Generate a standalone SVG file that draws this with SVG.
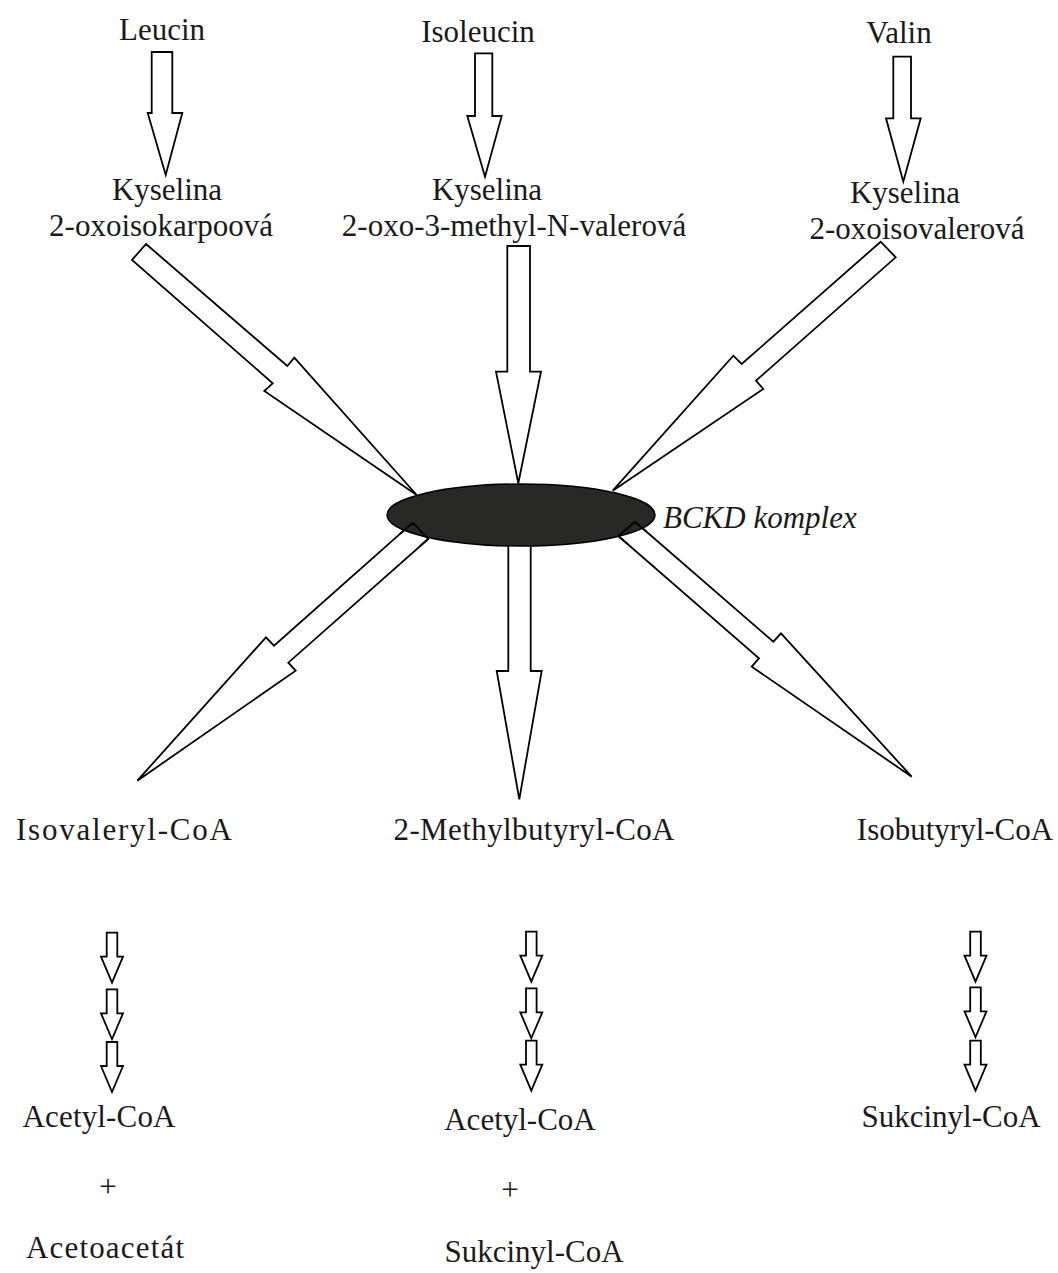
<svg xmlns="http://www.w3.org/2000/svg" width="1058" height="1273" viewBox="0 0 1058 1273">
<style>
text{font-family:"Liberation Serif","Times New Roman",serif;font-size:31px;fill:#1a1a1a;text-anchor:middle}
.it{font-style:italic;text-anchor:start}
.arr{fill:#fff;stroke:#000;stroke-width:1.8;stroke-linejoin:miter}
.arrn{fill:none;stroke:#000;stroke-width:1.8}
</style>
<defs>
<polygon id="sa" points="-5.3,0 5.3,0 5.3,24 11,24 0,50 -11,24 -5.3,24" class="arr"/>
</defs>
<rect width="1058" height="1273" fill="#fff"/>
<g id="connectors">
<polygon class="arr" points="151.7,52 172.3,52 172.3,113 182.3,113 165.7,175 147.7,113 151.7,113"/>
<polygon class="arr" points="475,53.3 492.3,53.3 492.3,116 501.7,116 485,176.7 467.3,116 475,116"/>
<polygon class="arr" points="893.3,56.7 911,56.7 911,118.3 920.7,118.3 903.3,181.7 886,118.3 893.3,118.3"/>
<polygon class="arr" points="146,244 287.3,366 294.3,357.7 416.7,495 264.3,391 272.7,383.3 132,260"/>
<polygon class="arr" points="507.3,246 530,246 530,371.7 541,371.7 518.3,483.3 496,371.7 507.3,371.7"/>
<polygon class="arr" points="880.7,241.7 741.7,364 733.3,355.7 612.7,490.7 763.3,389 756,380.7 895.7,257.3"/>
<polygon class="arr" points="508.3,530 530.7,530 530.7,671 541.7,671 519.3,799.3 496.7,671 508.3,671"/>
<polygon class="arr" points="412.7,522.7 274,645.7 266,637.3 137.3,780.7 295.7,670.7 288.3,662.7 428.3,539"/>
<polygon class="arr" points="635,521.7 773.3,641.7 781,633.3 911.7,776.7 751.7,666.7 759,658.3 618.3,536"/>
<use href="#sa" x="112" y="932.7"/>
<use href="#sa" x="112" y="989.3"/>
<use href="#sa" x="112" y="1042"/>
<use href="#sa" x="531.3" y="931.7"/>
<use href="#sa" x="531.3" y="988.3"/>
<use href="#sa" x="531.3" y="1040.7"/>
<use href="#sa" x="975.5" y="931.7"/>
<use href="#sa" x="975.5" y="987.3"/>
<use href="#sa" x="975.5" y="1040.7"/>
</g>
<g id="bckd">
<ellipse cx="521" cy="515" rx="134" ry="31" fill="#282826" stroke="#000" stroke-width="1.5"/>
<polyline class="arrn" points="412.7,522.7 428.3,539"/>
<polyline class="arrn" points="412.7,522.7 400,533.9"/>
<polyline class="arrn" points="428.3,539 420,546"/>
<polyline class="arrn" points="635,521.7 618.3,536"/>
<polyline class="arrn" points="635,521.7 646,531.2"/>
<polyline class="arrn" points="618.3,536 628,544.4"/>
<text class="it" x="663" y="528">BCKD komplex</text>
</g>
<g id="leucin"><text x="162" y="40">Leucin</text></g>
<g id="isoleucin"><text x="478" y="42">Isoleucin</text></g>
<g id="valin"><text x="899" y="43">Valin</text></g>
<g id="kys-left"><text x="167" y="200">Kyselina</text><text x="161" y="236">2-oxoisokarpoová</text></g>
<g id="kys-mid"><text x="487" y="200">Kyselina</text><text x="514" y="236">2-oxo-3-methyl-N-valerová</text></g>
<g id="kys-right"><text x="905" y="203">Kyselina</text><text x="917" y="239">2-oxoisovalerová</text></g>
<g id="isovaleryl"><text x="124" y="840" textLength="216" lengthAdjust="spacing">Isovaleryl-CoA</text></g>
<g id="methylbutyryl"><text x="534" y="840" textLength="281" lengthAdjust="spacing">2-Methylbutyryl-CoA</text></g>
<g id="isobutyryl"><text x="955" y="840">Isobutyryl-CoA</text></g>
<g id="left-prod"><text x="99" y="1127" textLength="153" lengthAdjust="spacing">Acetyl-CoA</text><text x="108" y="1197">+</text><text x="105" y="1258" textLength="158" lengthAdjust="spacing">Acetoacetát</text></g>
<g id="mid-prod"><text x="520" y="1130">Acetyl-CoA</text><text x="510" y="1200">+</text><text x="534" y="1262">Sukcinyl-CoA</text></g>
<g id="right-prod"><text x="951" y="1127">Sukcinyl-CoA</text></g>
</svg>
